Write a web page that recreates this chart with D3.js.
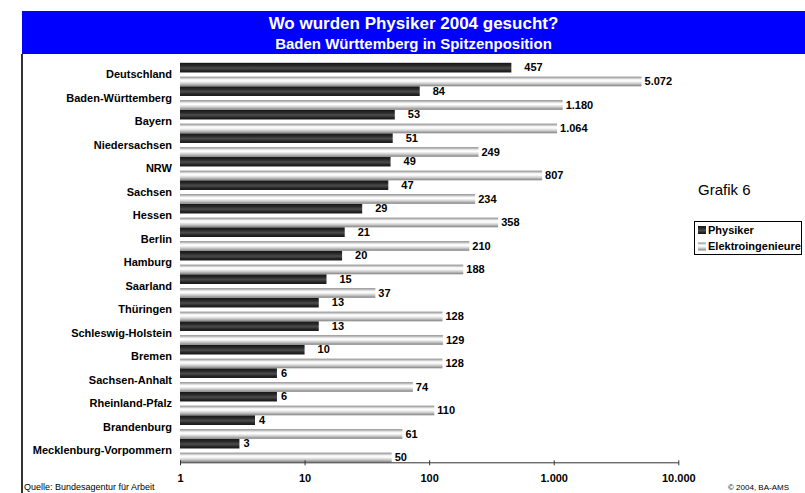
<!DOCTYPE html>
<html>
<head>
<meta charset="utf-8">
<script src="https://cdn.jsdelivr.net/npm/d3@7/dist/d3.min.js"></script>
<style>
  body { margin: 0; background: #fff; }
  svg text { font-family: "Liberation Sans", Arial, sans-serif; }
</style>
</head>
<body>
<script>
// data
var regions = ['Deutschland', 'Baden-Württemberg', 'Bayern', 'Niedersachsen', 'NRW', 'Sachsen',
  'Hessen', 'Berlin', 'Hamburg', 'Saarland', 'Thüringen', 'Schleswig-Holstein', 'Bremen',
  'Sachsen-Anhalt', 'Rheinland-Pfalz', 'Brandenburg', 'Mecklenburg-Vorpommern'];
var physiker = [457, 84, 53, 51, 49, 47, 29, 21, 20, 15, 13, 13, 10, 6, 6, 4, 3];
var elektro = [5072, 1180, 1064, 249, 807, 234, 358, 210, 188, 37, 128, 129, 128, 74, 110, 61, 50];
var seriesNames = ['Physiker', 'Elektroingenieure'];
var tickValues = [1, 10, 100, 1000, 10000];

var width = 805, height = 493;

var svg = d3.select('body').append('svg')
  .attr('width', width)
  .attr('height', height);

// german number format -> 1.000
var fmt = d3.formatLocale({ decimal: ',', thousands: '.', grouping: [3], currency: ['', ' €'] }).format(',d');

// gradients (cylinder look of the old excel bars)
var defs = svg.append('defs');

function gradient(id, stops) {
  var g = defs.append('linearGradient')
    .attr('id', id)
    .attr('x1', 0).attr('y1', 0).attr('x2', 0).attr('y2', 1);
  stops.forEach((s) => {
    g.append('stop').attr('offset', s[0]).attr('stop-color', s[1]);
  });
}
gradient('darkGrad', [[0, '#141414'], [0.3, '#2a2a2a'], [0.55, '#4c4c4c'], [0.8, '#262626'], [1, '#141414']]);
gradient('lightGrad', [[0, '#8a8a8a'], [0.3, '#f4f4f4'], [0.45, '#ffffff'], [0.7, '#d0d0d0'], [1, '#808080']]);
var fills = ['url(#darkGrad)', 'url(#lightGrad)'];

// header
svg.append('rect')
  .attr('x', 22).attr('y', 11)
  .attr('width', width - 22).attr('height', 43)
  .attr('fill', '#0000ff');

var headX = (22 + width) / 2;
svg.append('text')
  .text('Wo wurden Physiker 2004 gesucht?')
  .attr('x', headX).attr('y', 29)
  .attr('text-anchor', 'middle')
  .attr('fill', '#fff')
  .style('font-size', '17px')
  .style('font-weight', 'bold');

svg.append('text')
  .text('Baden Württemberg in Spitzenposition')
  .attr('x', headX).attr('y', 49)
  .attr('text-anchor', 'middle')
  .attr('fill', '#fff')
  .style('font-size', '15px')
  .style('font-weight', 'bold');

// left frame line
svg.append('rect')
  .attr('x', 21).attr('y', 54)
  .attr('width', 2).attr('height', height - 54)
  .attr('fill', '#333');

// scales
var x = d3.scaleLog()
  .domain([1, 10000])
  .range([180, 678.3]);

var y = d3.scaleBand()
  .domain(regions)
  .range([62.8, 462.3])
  .padding(0);

var ySub = d3.scaleBand()
  .domain(seriesNames)
  .range([0, y.bandwidth()])
  .paddingInner(0.3)
  .paddingOuter(0);

var series = [physiker, elektro];

// excel pushed the physiker labels further out unless they are one digit
function labelGap(s, d) {
  if (s == 1) return 3;
  return d < 10 ? 4 : 13;
}

series.forEach((vals, s) => {
  var g = svg.append('g').attr('class', 'series-' + s);

  g.selectAll('rect')
    .data(vals)
    .enter()
    .append('rect')
    .attr('x', x(1))
    .attr('y', (d, i) => y(regions[i]) + ySub(seriesNames[s]))
    .attr('width', (d) => x(d) - x(1))
    .attr('height', ySub.bandwidth())
    .attr('fill', fills[s]);

  g.selectAll('text')
    .data(vals)
    .enter()
    .append('text')
    .text((d) => fmt(d))
    .attr('x', (d) => x(d) + labelGap(s, d))
    .attr('y', (d, i) => y(regions[i]) + ySub(seriesNames[s]) + ySub.bandwidth() / 2)
    .attr('dy', '0.35em')
    .style('font-size', '11px')
    .style('font-weight', 'bold');
});

// category labels
svg.append('g')
  .selectAll('text')
  .data(regions)
  .enter()
  .append('text')
  .text((d) => d)
  .attr('x', 172)
  .attr('y', (d) => y(d) + y.bandwidth() / 2)
  .attr('dy', '0.35em')
  .attr('text-anchor', 'end')
  .style('font-size', '11px')
  .style('font-weight', 'bold');

// x axis
var xAxis = d3.axisBottom(x)
  .tickValues(tickValues)
  .tickFormat(fmt)
  .tickSizeOuter(0);

var axisG = svg.append('g')
  .attr('transform', 'translate(0,' + 462.3 + ')')
  .call(xAxis);

axisG.select('.domain').attr('stroke', '#333');
axisG.selectAll('.tick line').attr('stroke', '#333').attr('y1', -2).attr('y2', 3);
axisG.selectAll('.tick text')
  .attr('y', 12)
  .attr('fill', '#000')
  .style('font-family', '"Liberation Sans", Arial, sans-serif')
  .style('font-size', '11px')
  .style('font-weight', 'bold');

// Grafik label + legend
svg.append('text')
  .text('Grafik 6')
  .attr('x', 698).attr('y', 195)
  .style('font-size', '15px');

var legend = svg.append('g').attr('id', 'legend');
legend.append('rect')
  .attr('x', 694.5).attr('y', 221.5)
  .attr('width', 107).attr('height', 33)
  .attr('fill', '#fff')
  .attr('stroke', '#000');

seriesNames.forEach((d, i) => {
  var cy = 230 + i * 16.5;
  legend.append('rect')
    .attr('x', 698).attr('y', cy - 4)
    .attr('width', 8).attr('height', 8)
    .attr('fill', fills[i]);
  legend.append('text')
    .text(d)
    .attr('x', 708).attr('y', cy)
    .attr('dy', '0.35em')
    .style('font-size', '11px')
    .style('font-weight', 'bold');
});

// footer
svg.append('text')
  .text('Quelle: Bundesagentur für Arbeit')
  .attr('x', 24).attr('y', 490)
  .style('font-size', '9px');

svg.append('text')
  .text('© 2004, BA-AMS')
  .attr('x', 789).attr('y', 490)
  .attr('text-anchor', 'end')
  .style('font-size', '8px');
</script>
</body>
</html>
